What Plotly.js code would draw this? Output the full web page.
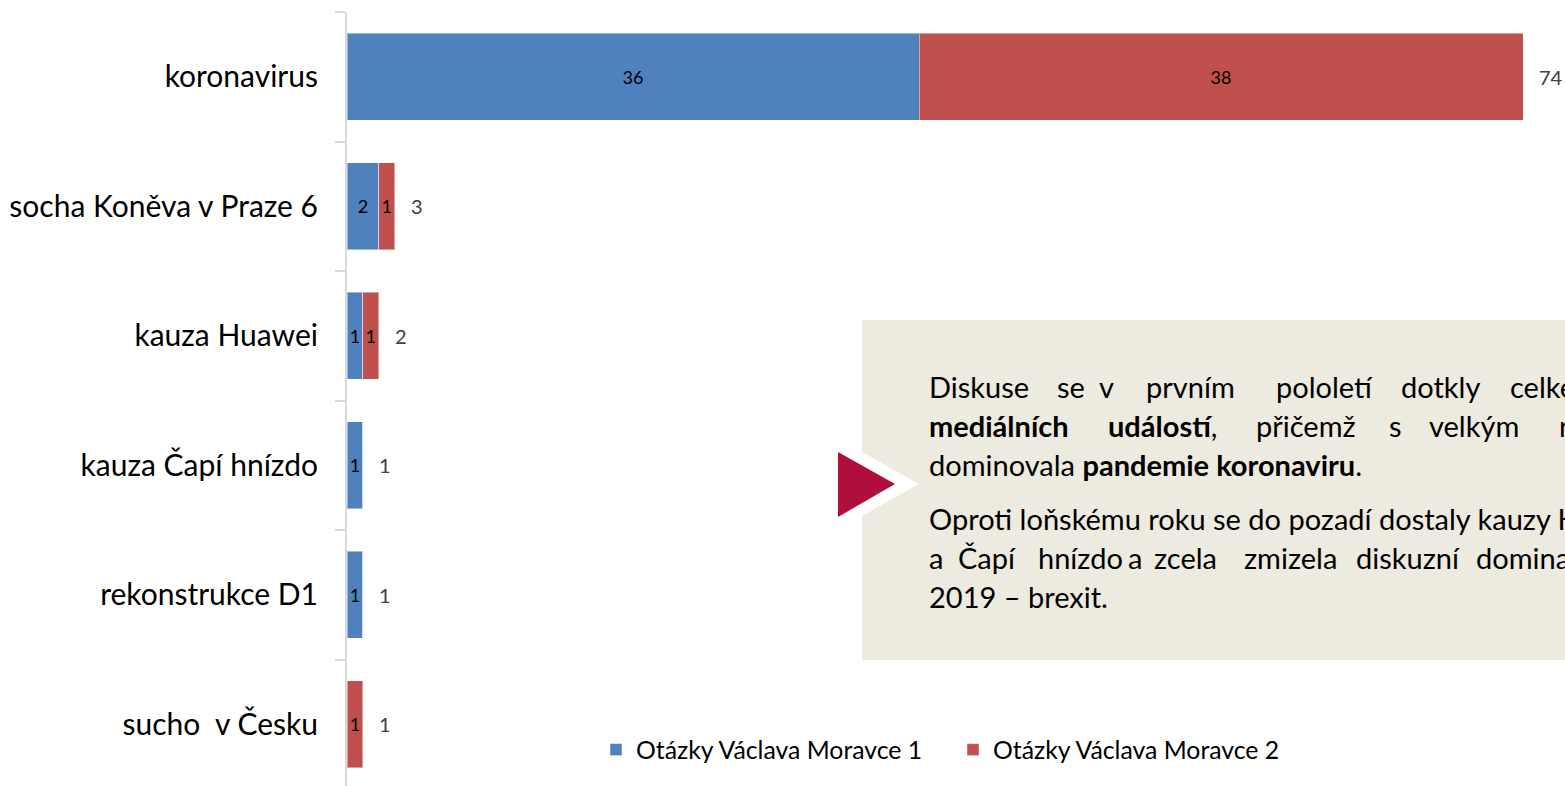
<!DOCTYPE html>
<html>
<head>
<meta charset="utf-8">
<script src="https://cdn.plot.ly/plotly-3.0.1.min.js"></script>
<style>
html,body{margin:0;padding:0;overflow:hidden;background:#fff;}
#chart{width:1565px;height:786px;}
</style>
</head>
<body>
<div id="chart"></div>
<script>
// ---- data ----
const categories = ["koronavirus", "socha Koněva v Praze 6", "kauza Huawei", "kauza Čapí hnízdo", "rekonstrukce D1", "sucho  v Česku"];
const series1Name = "Otázky Václava Moravce 1";
const series2Name = "Otázky Václava Moravce 2";
const series1 = [36, 2, 1, 1, 1, 0];
const series2 = [38, 1, 1, 0, 0, 1];
const totals = [74, 3, 2, 1, 1, 1];

// ---- layout helpers ----
const W = 1565, H = 786;
const ML = 347, MR = 0, MT = 12, MB = 0;
const PW = W - ML - MR, PH = H - MT - MB;
const px = X => (X - ML) / PW;
const py = Y => (H - MB - Y) / PH;

const FONT = "Lato, 'Open Sans', sans-serif";
const BLUE = "#4F81BD", RED = "#C0504D";

const lbl = a => a.map(v => v ? String(v) : "");

const traces = [
  {type: "bar", orientation: "h", name: series1Name, y: categories, x: series1,
   marker: {color: BLUE, line: {color: "rgba(255,255,255,0.45)", width: 1}},
   text: lbl(series1), textposition: "inside", insidetextanchor: "middle",
   constraintext: "none", textangle: 0, textfont: {family: FONT, size: 18, color: "#000"},
   hoverinfo: "x+name"},
  {type: "bar", orientation: "h", name: series2Name, y: categories, x: series2,
   marker: {color: RED, line: {color: "rgba(255,255,255,0.45)", width: 1}},
   text: lbl(series2), textposition: "inside", insidetextanchor: "middle",
   constraintext: "none", textangle: 0, textfont: {family: FONT, size: 18, color: "#000"},
   hoverinfo: "x+name"}
];

const annotations = [];
// totals beside the bars
categories.forEach((c, i) => {
  annotations.push({xref: "x", yref: "y", x: totals[i], y: c, text: String(totals[i]),
    xanchor: "left", yanchor: "middle", xshift: 14, showarrow: false,
    font: {family: FONT, size: 20, color: "#404040"}});
});

// text box words
function word(X, Y, t) {
  annotations.push({xref: "paper", yref: "paper", x: px(X), y: py(Y), text: t,
    xanchor: "left", yanchor: "middle", showarrow: false, xshift: -1,
    font: {family: FONT, size: 29, color: "#000"}});
}
const line1 = [[928, "Diskuse"], [1056, "se"], [1098, "v"], [1145, "prvním"], [1275, "pololetí"], [1400, "dotkly"], [1509, "celkem"]];
const line2 = [[928, "<b>mediálních</b>"], [1107, "<b>událostí</b>,"], [1255, "přičemž"], [1388, "s"], [1428, "velkým"], [1558, "náskokem"]];
const line5 = [[928, "a"], [957, "Čapí"], [1037, "hnízdo"], [1127, "a"], [1153, "zcela"], [1243, "zmizela"], [1355, "diskuzní"], [1475, "dominanta"]];
line1.forEach(w => word(w[0], 386, w[1]));
line2.forEach(w => word(w[0], 425, w[1]));
word(928, 464, "dominovala <b>pandemie koronaviru</b>.");
word(928, 518, "Oproti loňskému roku se do pozadí dostaly kauzy Huawei");
line5.forEach(w => word(w[0], 557, w[1]));
word(928, 596, "2019 – brexit.");

const shapes = [
  {type: "rect", xref: "paper", yref: "paper", x0: px(862), x1: px(1620), y0: py(660), y1: py(320),
   fillcolor: "#EDEAE0", line: {width: 0}, layer: "below"},
  {type: "path", xref: "paper", yref: "paper",
   path: `M ${px(862)} ${py(452)} L ${px(919)} ${py(484)} L ${px(862)} ${py(516)} Z`,
   fillcolor: "#FFFFFF", line: {width: 0}},
  {type: "path", xref: "paper", yref: "paper",
   path: `M ${px(838)} ${py(452)} L ${px(895)} ${py(484)} L ${px(838)} ${py(517)} Z`,
   fillcolor: "#B10F3B", line: {width: 0}}
];

const layout = {
  width: W, height: H,
  margin: {l: ML, r: MR, t: MT, b: MB, pad: 0},
  paper_bgcolor: "#fff", plot_bgcolor: "rgba(0,0,0,0)",
  barmode: "stack", bargap: 0.33,
  font: {family: FONT, color: "#000"},
  xaxis: {range: [0, (W - MR - ML) / ((1523 - 347) / 74)], visible: false, fixedrange: true},
  yaxis: {type: "category", categoryorder: "array", categoryarray: categories,
    autorange: false, range: [categories.length - 0.5 - (categories.length - PH / 129.5), -0.5],
    showline: true, linecolor: "#D9D9D9", linewidth: 2,
    ticks: "outside", tickson: "boundaries", ticklen: 10, tickwidth: 2, tickcolor: "#D9D9D9",
    showgrid: false, zeroline: false, ticklabelstandoff: 21,
    tickfont: {family: FONT, size: 30, color: "#000"}, fixedrange: true},
  showlegend: true,
  legend: {orientation: "h", xref: "paper", yref: "paper", x: px(596), y: py(750),
    xanchor: "left", yanchor: "middle", traceorder: "normal",
    font: {family: FONT, size: 24.8, color: "#000"}, bgcolor: "rgba(0,0,0,0)",
    entrywidth: 312, entrywidthmode: "pixels"},
  shapes: shapes,
  annotations: annotations
};

Plotly.newPlot("chart", traces, layout, {displayModeBar: false, staticPlot: true});
</script>
</body>
</html>
